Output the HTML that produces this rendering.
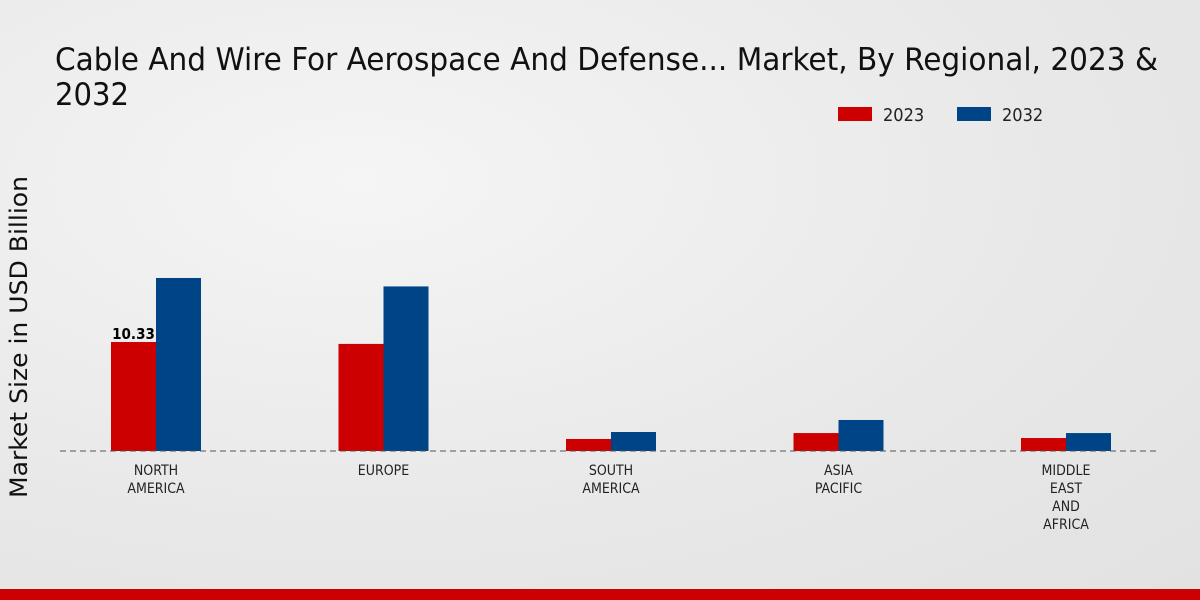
<!DOCTYPE html>
<html><head><meta charset="utf-8"><style>
body{margin:0;width:1200px;height:600px;overflow:hidden;font-family:"Liberation Sans",sans-serif;}
#bg{position:absolute;left:0;top:0;width:1200px;height:600px;background:radial-gradient(ellipse at 30% 30%,#f5f5f5 0%,#e8e8e8 60%,#e2e2e2 100%);}
</style></head><body>
<div id="bg"></div>
<svg id="chart" width="1200" height="600" style="position:absolute;left:0;top:0">
<text x="55" y="70" font-family="DejaVu Sans Condensed, Liberation Sans Narrow, Liberation Sans, sans-serif" font-size="31" fill="#111" textLength="1103" lengthAdjust="spacingAndGlyphs">Cable And Wire For Aerospace And Defense... Market, By Regional, 2023 &amp;</text>
<text x="55" y="105" font-family="DejaVu Sans Condensed, Liberation Sans Narrow, Liberation Sans, sans-serif" font-size="31" fill="#111" textLength="74" lengthAdjust="spacingAndGlyphs">2032</text>
<g>
<rect x="838" y="107" width="34" height="14" fill="#cc0000"/>
<text x="883" y="121" font-size="18" fill="#222" font-family="DejaVu Sans Condensed, Liberation Sans, sans-serif">2023</text>
<rect x="957" y="107" width="34" height="14" fill="#004488"/>
<text x="1002" y="121" font-size="18" fill="#222" font-family="DejaVu Sans Condensed, Liberation Sans, sans-serif">2032</text>
</g>
<text transform="translate(27,337) rotate(-90)" text-anchor="middle" font-size="24" fill="#111" font-family="DejaVu Sans, Liberation Sans, sans-serif" textLength="322" lengthAdjust="spacingAndGlyphs">Market Size in USD Billion</text>
<g id="bars"></g>
<line x1="60" y1="451" x2="1160" y2="451" stroke="#555" stroke-dasharray="6,4" stroke-width="1"/>
<g id="labels"></g>
<rect x="0" y="589" width="1200" height="11" fill="#cc0000"/>
</svg>
<script>
const categories=[["NORTH","AMERICA"],["EUROPE"],["SOUTH","AMERICA"],["ASIA","PACIFIC"],["MIDDLE","EAST","AND","AFRICA"]];
const values2023=[10.33,10.15,1.14,1.7,1.23];
const values2032=[16.4,15.6,1.8,2.94,1.7];
const shownLabels=["10.33",null,null,null,null];
const NS="http://www.w3.org/2000/svg";
const base=451,scale=10.55,x0=156,step=227.5,bw=45;
const yPx=v=>base-v*scale;
const xC=i=>x0+i*step;
const bars=document.getElementById('bars'),labels=document.getElementById('labels');
categories.forEach((c,i)=>{
  [[values2023,'#cc0000',-bw,'2023'],[values2032,'#004488',0,'2032']].forEach(([arr,col,off,yr])=>{
    const r=document.createElementNS(NS,'rect');
    r.setAttribute('x',xC(i)+off);r.setAttribute('y',yPx(arr[i]));
    r.setAttribute('width',bw);r.setAttribute('height',base-yPx(arr[i]));r.setAttribute('fill',col);
    
    
    bars.appendChild(r);
  });
  if(shownLabels[i]){
    const t=document.createElementNS(NS,'text');
    t.setAttribute('x',xC(i)-bw/2);t.setAttribute('y',yPx(values2023[i])-3);
    t.setAttribute('text-anchor','middle');t.setAttribute('font-size','15');t.setAttribute('font-weight','bold');
    t.setAttribute('font-family','DejaVu Sans Condensed, Liberation Sans, sans-serif');
    t.textContent=shownLabels[i];
    
    
    labels.appendChild(t);
  }
  c.forEach((ln,j)=>{
    const t=document.createElementNS(NS,'text');
    t.setAttribute('x',xC(i));t.setAttribute('y',475+j*18);
    t.setAttribute('text-anchor','middle');t.setAttribute('font-size','14');t.setAttribute('fill','#222');
    t.setAttribute('font-family','DejaVu Sans Condensed, Liberation Sans Narrow, Liberation Sans, sans-serif');
    t.textContent=ln;
    
    
    labels.appendChild(t);
  });
});
</script>
</body></html>
